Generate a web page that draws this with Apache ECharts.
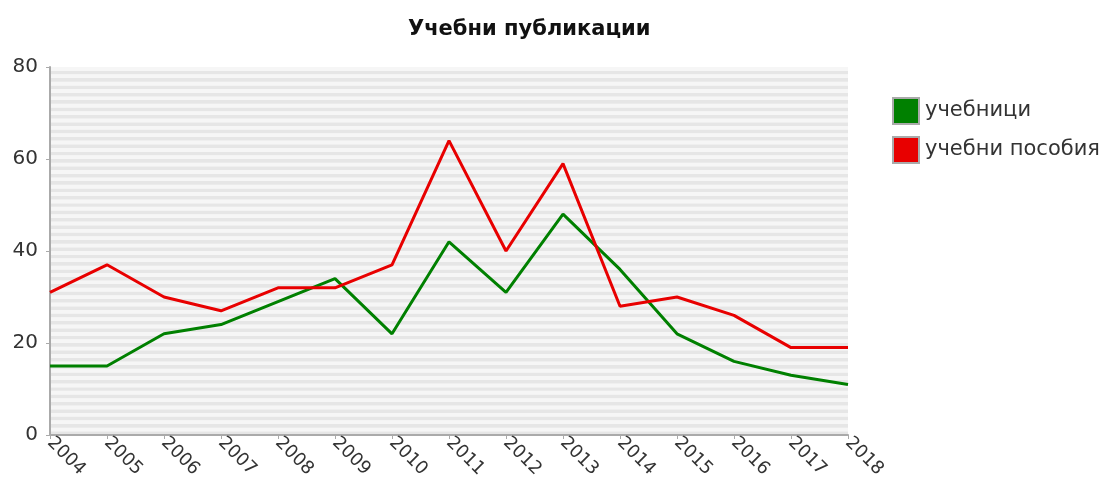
<!DOCTYPE html>
<html>
<head>
<meta charset="utf-8">
<script src="https://cdn.jsdelivr.net/npm/echarts@6/dist/echarts.min.js"></script>
<style>
    html, body { margin: 0; padding: 0; background: #fff; }
    #chart { width: 1106px; height: 486px; }
</style>
</head>
<body>
<div id="chart"></div>
<script>
    // години
    let years = ['2004','2005','2006','2007','2008','2009','2010','2011','2012','2013','2014','2015','2016','2017','2018'];
    // учебници
    let textbooks = [15, 15, 22, 24, 29, 34, 22, 42, 31, 48, 36, 22, 16, 13, 11];
    // учебни пособия
    let manuals = [31, 37, 30, 27, 32, 32, 37, 64, 40, 59, 28, 30, 26, 19, 19];
    let seriesNames = ['учебници', 'учебни пособия'];
    let yTicks = [0, 20, 40, 60, 80];

    let font = '"DejaVu Sans", sans-serif';
    let chart = echarts.init(document.getElementById('chart'));

    let option = {
        animation: false,
        title: {
            text: 'Учебни публикации',
            left: 403,
            top: 14,
            textStyle: {
                fontFamily: font,
                fontSize: 21,
                fontWeight: 'bold',
                color: '#111'
            }
        },
        legend: {
            orient: 'vertical',
            left: 887,
            top: 92,
            itemWidth: 26,
            itemHeight: 26,
            itemGap: 11,
            icon: 'rect',
            data: seriesNames,
            textStyle: {
                fontFamily: font,
                fontSize: 21,
                color: '#333',
                padding: [0, 0, 0, 1]
            },
            itemStyle: {
                borderColor: '#aaa',
                borderWidth: 2
            }
        },
        grid: {
            left: 50,
            top: 67,
            width: 798,
            height: 368
        },
        xAxis: {
            type: 'category',
            boundaryGap: false,
            data: years,
            axisLine: { lineStyle: { color: '#aaa', width: 2 } },
            axisTick: { show: true, length: 4, lineStyle: { color: '#aaa' } },
            axisLabel: {
                rotate: -45,
                margin: 5,
                fontFamily: font,
                fontSize: 18,
                color: '#333'
            }
        },
        yAxis: [
            {
                type: 'value',
                min: yTicks[0],
                max: yTicks[yTicks.length - 1],
                interval: 20,
                axisLine: { show: true, lineStyle: { color: '#aaa', width: 2 } },
                axisTick: { show: true, length: 4, lineStyle: { color: '#aaa' } },
                splitLine: { show: false },
                axisLabel: {
                    margin: 12,
                    fontFamily: font,
                    fontSize: 20,
                    color: '#333'
                }
            },
            {
                // само за райетата на фона
                type: 'value',
                min: 0,
                max: 100,
                interval: 1,
                position: 'left',
                axisLine: { show: false },
                axisTick: { show: false },
                axisLabel: { show: false },
                splitLine: { show: false },
                splitArea: {
                    show: true,
                    areaStyle: { color: ['#e6e6e6', '#f6f6f6'] }
                }
            }
        ],
        series: [
            {
                name: seriesNames[0],
                type: 'line',
                data: textbooks,
                showSymbol: false,
                itemStyle: { color: '#008000' },
                lineStyle: { color: '#008000', width: 3 }
            },
            {
                name: seriesNames[1],
                type: 'line',
                data: manuals,
                showSymbol: false,
                itemStyle: { color: '#e80000' },
                lineStyle: { color: '#e80000', width: 3 }
            }
        ]
    };

    chart.setOption(option);
</script>
</body>
</html>
